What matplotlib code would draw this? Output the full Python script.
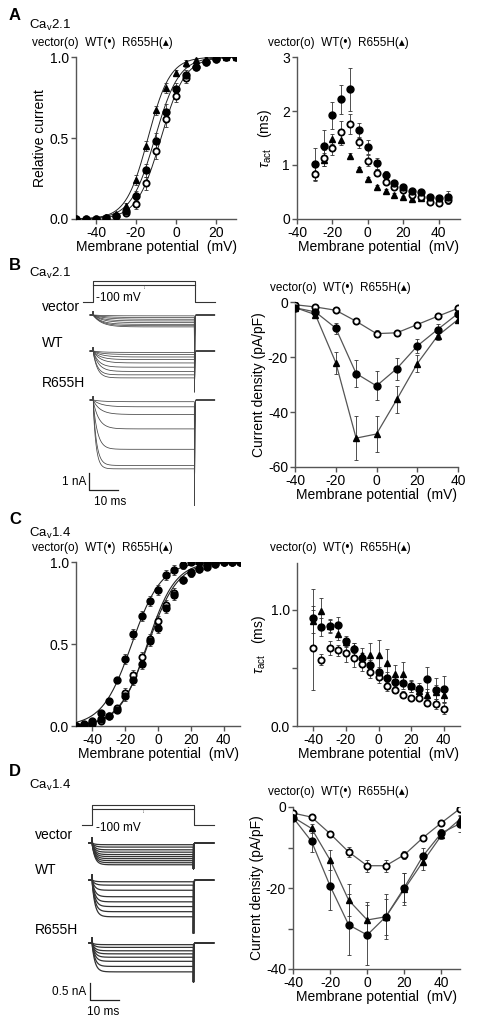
import numpy as np
import matplotlib.pyplot as plt

plt.rcParams['font.family'] = ['Liberation Sans', 'DejaVu Sans']
plt.rcParams['mathtext.fontset'] = 'custom'
plt.rcParams['mathtext.rm'] = 'Liberation Sans'
plt.rcParams['mathtext.it'] = 'Liberation Sans:italic'
plt.rcParams['axes.unicode_minus'] = False

#Data
#------------------------
# A: Cav2.1 activation (relative current) and tau act
v_a = [-50, -45, -40, -35, -30, -25, -20, -15, -10, -5, 0, 5, 10, 15, 20, 25, 30]
act_a_vec = [0, 0, 0, 0.005, 0.02, 0.04, 0.09, 0.22, 0.42, 0.62, 0.76, 0.87, 0.94, 0.97, 0.99, 1.0, 1.0]
act_a_wt = [0, 0, 0, 0.005, 0.02, 0.05, 0.14, 0.30, 0.48, 0.66, 0.80, 0.89, 0.94, 0.97, 0.99, 1.0, 1.0]
act_a_r = [0, 0, 0, 0.01, 0.03, 0.08, 0.24, 0.45, 0.67, 0.81, 0.90, 0.96, 0.98, 0.99, 1.0, 1.0, 1.0]
err_a_vec = [0, 0, 0, 0, 0.01, 0.02, 0.03, 0.04, 0.05, 0.05, 0.04, 0.03, 0.02, 0.01, 0, 0, 0]
err_a_wt = [0, 0, 0, 0, 0.01, 0.02, 0.03, 0.04, 0.05, 0.05, 0.04, 0.03, 0.02, 0.01, 0, 0, 0]
err_a_r = [0, 0, 0, 0, 0.01, 0.02, 0.03, 0.03, 0.03, 0.03, 0.02, 0.02, 0.01, 0.01, 0, 0, 0]
vhalf_a = [-7.5, -10.5, -14.0]   # vector, WT, R655H Boltzmann fits
slope_a = [6.0, 6.0, 5.5]

v_tau_a = [-30, -25, -20, -15, -10, -5, 0, 5, 10, 15, 20, 25, 30, 35, 40, 45]
tau_a_vec = [0.84, 1.13, 1.32, 1.62, 1.76, 1.42, 1.08, 0.86, 0.69, 0.59, 0.54, 0.44, 0.40, 0.31, 0.30, 0.36]
tau_a_wt = [1.01, 1.35, 1.92, 2.22, 2.40, 1.64, 1.34, 1.03, 0.82, 0.67, 0.59, 0.51, 0.50, 0.40, 0.38, 0.40]
tau_a_r = [0.85, 1.10, 1.48, 1.47, 1.17, 0.92, 0.74, 0.60, 0.52, 0.45, 0.40, 0.37, 0.38, 0.35, 0.33, 0.37]
err_tau_a_vec = [0.12, 0.15, 0.14, 0.20, 0.18, 0.10, 0.10, 0.06, 0.05, 0.04, 0.04, 0.04, 0.03, 0.03, 0.03, 0.05]
err_tau_a_wt = [0.30, 0.30, 0.25, 0.27, 0.40, 0.14, 0.13, 0.10, 0.06, 0.05, 0.05, 0.04, 0.04, 0.04, 0.04, 0.12]
err_tau_a_r = [0.12, 0.12, 0.10, 0.10, 0.06, 0.04, 0.04, 0.03, 0.03, 0.03, 0.03, 0.03, 0.03, 0.03, 0.03, 0.03]

# B: Cav2.1 current density
v_iv_b = [-40, -30, -20, -10, 0, 10, 20, 30, 40]
iv_b_vec = [-1.0, -1.8, -3.0, -7.0, -11.5, -11.2, -8.2, -5.2, -2.3]
iv_b_wt = [-2.1, -3.6, -9.5, -26.0, -30.5, -24.2, -16.0, -10.0, -4.2]
iv_b_r = [-2.0, -4.6, -22.0, -49.5, -48.0, -35.4, -22.4, -12.3, -6.4]
err_b_vec = [0.3, 0.4, 0.5, 0.8, 1.2, 1.0, 0.8, 0.6, 0.4]
err_b_wt = [0.5, 0.8, 2.0, 5.0, 5.3, 4.0, 2.5, 2.0, 1.0]
err_b_r = [0.5, 1.0, 4.0, 8.0, 6.5, 5.0, 3.0, 1.5, 1.0]

# B: Cav2.1 example traces (steady amplitude nA, activation tau ms)
amp_b_vec = [0.05, 0.15, 0.25, 0.35, 0.45, 0.55, 0.63, 0.70]
tau_b_vec = [4, 4, 4, 3.5, 3.5, 3, 3, 3]
amp_b_wt = [0.08, 0.2, 0.35, 0.5, 0.7, 0.95, 1.2, 1.4, 1.58]
tau_b_wt = [3, 3, 3, 2.5, 2.5, 2, 2, 1.5, 1.5]
amp_b_r = [0.1, 0.4, 0.85, 1.7, 2.9, 3.85, 4.05]
tau_b_r = [3, 3, 2.5, 2, 1.5, 1.2, 1.0]
tail_b = [4.5, 2.4, 6.2]

# C: Cav1.4 activation and tau act
v_c = [-50, -45, -40, -35, -30, -25, -20, -15, -10, -5, 0, 5, 10, 15, 20, 25, 30, 35, 40, 45, 50]
act_c_wt = [0, 0.01, 0.03, 0.08, 0.15, 0.28, 0.41, 0.56, 0.67, 0.76, 0.83, 0.92, 0.95, 0.98, 1.0, 1.0, 1.0, 1.0, 1.0, 1.0, 1.0]
act_c_vec = [0, 0, 0.01, 0.03, 0.06, 0.11, 0.20, 0.31, 0.42, 0.53, 0.64, 0.74, 0.81, 0.89, 0.94, 0.96, 0.98, 0.99, 1.0, 1.0, 1.0]
act_c_r = [0, 0.005, 0.02, 0.04, 0.06, 0.10, 0.18, 0.28, 0.38, 0.52, 0.60, 0.72, 0.80, 0.89, 0.93, 0.96, 0.97, 0.99, 1.0, 1.0, 1.0]
err_c = [0, 0, 0.01, 0.01, 0.02, 0.02, 0.03, 0.03, 0.03, 0.03, 0.03, 0.03, 0.03, 0.02, 0.02, 0.01, 0.01, 0, 0, 0, 0]
vhalf_c = [-6.0, -16.0, -6.5]
slope_c = [9.0, 9.0, 8.5]

v_tau_c = [-40, -35, -30, -25, -20, -15, -10, -5, 0, 5, 10, 15, 20, 25, 30, 35, 40]
tau_c_wt = [0.93, 0.85, 0.86, 0.87, 0.73, 0.66, 0.58, 0.52, 0.46, 0.41, 0.38, 0.37, 0.345, 0.32, 0.40, 0.31, 0.32]
tau_c_vec = [0.67, 0.57, 0.67, 0.65, 0.63, 0.58, 0.53, 0.46, 0.42, 0.34, 0.31, 0.27, 0.24, 0.24, 0.20, 0.19, 0.15]
tau_c_r = [0.90, 0.99, 0.86, 0.79, 0.72, 0.67, 0.61, 0.61, 0.61, 0.54, 0.45, 0.45, 0.34, 0.30, 0.27, 0.29, 0.27]
err_tau_c_wt = [0.25, 0.08, 0.06, 0.07, 0.04, 0.05, 0.05, 0.05, 0.05, 0.05, 0.05, 0.05, 0.05, 0.05, 0.11, 0.10, 0.11]
err_tau_c_vec = [0.36, 0.05, 0.06, 0.05, 0.08, 0.07, 0.06, 0.05, 0.05, 0.04, 0.03, 0.03, 0.02, 0.02, 0.03, 0.04, 0.05]
err_tau_c_r = [0.10, 0.11, 0.05, 0.05, 0.04, 0.04, 0.06, 0.10, 0.13, 0.12, 0.07, 0.10, 0.05, 0.05, 0.05, 0.06, 0.06]

# D: Cav1.4 current density
v_iv_d = [-40, -30, -20, -10, 0, 10, 20, 30, 40, 50]
iv_d_vec = [-1.5, -2.5, -6.6, -11.1, -14.5, -14.5, -11.8, -7.6, -3.9, -0.4]
iv_d_wt = [-2.6, -8.5, -19.5, -29.1, -31.6, -27.1, -19.9, -12.1, -6.4, -4.1]
iv_d_r = [-2.5, -5.3, -13.1, -23.0, -27.9, -27.1, -20.3, -13.5, -7.0, -3.0]
err_d_vec = [0.3, 0.4, 0.7, 1.2, 1.5, 1.5, 1.0, 0.6, 0.4, 0.3]
err_d_wt = [0.5, 2.5, 6.0, 7.5, 7.5, 5.5, 3.5, 2.0, 1.0, 2.0]
err_d_r = [0.5, 1.0, 2.5, 4.0, 4.5, 4.5, 4.0, 2.0, 1.0, 1.0]

# D: Cav1.4 example traces
amp_d_vec = [0.05, 0.12, 0.2, 0.27, 0.34, 0.4, 0.46, 0.52, 0.58, 0.64]
amp_d_wt = [0.05, 0.15, 0.3, 0.49, 0.64, 0.78, 0.93, 1.08]
amp_d_r = [0.05, 0.13, 0.23, 0.32, 0.42, 0.54, 0.69, 0.85]
tau_d = 1.0
tail_d = [0.76, 1.57, 1.15]

legend_txt = 'vector(ο)  WT(•)  R655H(▴)'

#Figure set up
#-------------
W, H = 486, 1023
fig = plt.figure(figsize=(W / 100, H / 100), dpi=100)
grey = '#555555'
tfs = 10


def px_axes(x0, y0, x1, y1):
    return fig.add_axes([x0 / W, 1 - y1 / H, (x1 - x0) / W, (y1 - y0) / H])


def style(ax):
    for s in ['top', 'right']:
        ax.spines[s].set_visible(False)
    for s in ['left', 'bottom']:
        ax.spines[s].set_color(grey)
        ax.spines[s].set_linewidth(1.0)
    ax.tick_params(colors=grey, labelcolor='black', labelsize=tfs, length=3.5, width=1.0, pad=1.5)
    ax.set_xlabel('Membrane potential  (mV)', fontsize=tfs, labelpad=0)


def ftext(x, y, s, **kw):
    kw.setdefault('fontsize', tfs)
    fig.text(x / W, 1 - y / H, s, va='center', **kw)


def boltz(v, vh, k):
    return 1 / (1 + np.exp((vh - v) / k))


def pts(ax, x, y, e, kind, ms=5, line=False):
    ax.errorbar(x, y, yerr=e, fmt='none', ecolor='#333333', elinewidth=0.6, capsize=1.5, capthick=0.6, zorder=2)
    if line:
        ax.plot(x, y, '-', color=grey, lw=0.9, zorder=2)
    if kind == 'open':
        ax.plot(x, y, 'o', mfc='white', mec='black', mew=1.3, ms=ms - 0.5, ls='', zorder=3)
    elif kind == 'fill':
        ax.plot(x, y, 'o', color='black', ms=ms, ls='', zorder=3)
    else:
        ax.plot(x, y, '^', color='black', ms=ms - 0.5, ls='', zorder=3)


#Panel A
#-------
ax = px_axes(76, 57, 236, 219)
vf = np.linspace(-50, 30, 300)
for vh, k in zip(vhalf_a, slope_a):
    ax.plot(vf, boltz(vf, vh, k), color='#222222', lw=0.7)
pts(ax, v_a, act_a_vec, err_a_vec, 'open')
pts(ax, v_a, act_a_r, err_a_r, 'tri')
pts(ax, v_a, act_a_wt, err_a_wt, 'fill')
ax.set_xlim(-50, 30)
ax.set_ylim(0, 1.0)
ax.set_xticks([-40, -20, 0, 20])
ax.set_yticks([0, 0.5, 1.0])
ax.set_yticklabels(['0.0', '0.5', '1.0'])
ax.set_ylabel('Relative current', fontsize=tfs, labelpad=2)
style(ax)

ax = px_axes(297, 57, 460, 219)
pts(ax, v_tau_a, tau_a_r, err_tau_a_r, 'tri')
pts(ax, v_tau_a, tau_a_vec, err_tau_a_vec, 'open')
pts(ax, v_tau_a, tau_a_wt, err_tau_a_wt, 'fill')
ax.set_xlim(-40, 52)
ax.set_ylim(0, 3)
ax.set_xticks([-40, -20, 0, 20, 40])
ax.set_yticks([0, 1, 2, 3])
ax.set_ylabel(r'$\tau_{\rm act}$   (ms)', fontsize=tfs, labelpad=6)
style(ax)

#Panel B
#-------
ax = px_axes(295, 302, 458, 467)
pts(ax, v_iv_b, iv_b_vec, err_b_vec, 'open', line=True)
pts(ax, v_iv_b, iv_b_wt, err_b_wt, 'fill', line=True)
pts(ax, v_iv_b, iv_b_r, err_b_r, 'tri', line=True)
ax.set_xlim(-40, 40)
ax.set_ylim(-60, 0)
ax.set_xticks([-40, -20, 0, 20, 40])
ax.set_yticks([0, -20, -40, -60])
ax.set_ylabel('Current density (pA/pF)', fontsize=tfs, labelpad=1)
style(ax)

#Panel C
#-------
ax = px_axes(76, 562, 240, 726)
vf = np.linspace(-50, 50, 300)
for vh, k in zip(vhalf_c, slope_c):
    ax.plot(vf, boltz(vf, vh, k), color='#222222', lw=0.8)
pts(ax, v_c, act_c_vec, err_c, 'open')
pts(ax, v_c, act_c_r, err_c, 'fill')
pts(ax, v_c, act_c_wt, err_c, 'fill')
ax.set_xlim(-50, 50)
ax.set_ylim(0, 1.0)
ax.set_xticks([-40, -20, 0, 20, 40])
ax.set_yticks([0, 0.5, 1.0])
ax.set_yticklabels(['0.0', '0.5', '1.0'])
style(ax)

ax = px_axes(297, 563, 460, 726)
pts(ax, v_tau_c, tau_c_r, err_tau_c_r, 'tri')
pts(ax, v_tau_c, tau_c_vec, err_tau_c_vec, 'open')
pts(ax, v_tau_c, tau_c_wt, err_tau_c_wt, 'fill')
ax.set_xlim(-50, 50)
ax.set_ylim(0, 1.4)
ax.set_xticks([-40, -20, 0, 20, 40])
ax.set_yticks([0, 0.5, 1.0])
ax.set_yticklabels(['0.0', '', '1.0'])
ax.set_ylabel(r'$\tau_{\rm act}$   (ms)', fontsize=tfs, labelpad=2)
style(ax)

#Panel D
#-------
ax = px_axes(293, 807, 460, 969)
pts(ax, v_iv_d, iv_d_vec, err_d_vec, 'open', line=True)
pts(ax, v_iv_d, iv_d_r, err_d_r, 'tri', line=True)
pts(ax, v_iv_d, iv_d_wt, err_d_wt, 'fill', line=True)
ax.set_xlim(-40, 50)
ax.set_ylim(-40, 0)
ax.set_xticks([-40, -20, 0, 20, 40])
ax.set_yticks([0, -10, -20, -30, -40])
ax.set_yticklabels(['0', '', '-20', '', '-40'])
ax.set_ylabel('Current density (pA/pF)', fontsize=tfs, labelpad=1)
style(ax)


#Example traces
#--------------
t_step = 35.0
ms_px = 2.9
t = np.arange(-1.0, 42.0, 0.05)


def trace(amp, tau, tail, cap):
    i = np.zeros_like(t)
    on = (t >= 0) & (t < t_step)
    i[on] = -amp * (1 - np.exp(-t[on] / tau))
    i[(t >= 0) & (t < 0.15)] = cap
    off = t >= t_step
    i[off] = -tail * np.exp(-(t[off] - t_step) / 0.08)
    return i


def trace_axes(x0, y0, x1, y1, t0_px, base_px, na_px):
    a = px_axes(x0, y0, x1, y1)
    a.set_xlim((x0 - t0_px) / ms_px, (x1 - t0_px) / ms_px)
    a.set_ylim((base_px - y1) / na_px, (base_px - y0) / na_px)
    a.axis('off')
    return a


def protocol(x0, y0, x1, y1, t0_px, base_px, top_px):
    mv_px = (base_px - top_px) / 150.0
    a = px_axes(x0, y0, x1, y1)
    a.set_xlim((x0 - t0_px) / ms_px, (x1 - t0_px) / ms_px)
    a.set_ylim(-100 - (y1 - base_px) / mv_px, -100 + (base_px - y0) / mv_px)
    a.axis('off')
    a.plot([-3.4, 0, 0, t_step, t_step, 42], [-100, -100, 50, 50, -100, -100], color='#333333', lw=0.8)
    a.plot([0, t_step], [20, 20], color='#333333', lw=0.8)
    a.plot([t_step / 2, t_step / 2], [20, -10], color='#333333', lw=0.6, ls=':')
    return a


# B traces
protocol(55, 275, 235, 310, 93, 302, 281)
axb = trace_axes(55, 305, 235, 510, 93, 315, 17.0)
offs_b = [0.0, -2.12, -5.0]
groups_b = [(amp_b_vec, tau_b_vec), (amp_b_wt, tau_b_wt), (amp_b_r, tau_b_r)]
for g, (amps, taus) in enumerate(groups_b):
    for amp, tau in zip(amps, taus):
        axb.plot(t, trace(amp, tau, tail_b[g], 0.2) + offs_b[g], color='#444444', lw=0.55)
# scale bar 1 nA / 10 ms
axb.plot([-1.4, -1.4, 8.6], [-9.29, -10.29, -10.29], color='#222222', lw=0.9)

# D traces
protocol(55, 798, 235, 832, 92, 825, 805)
axd = trace_axes(55, 832, 235, 1005, 92, 843, 34.0)
offs_d = [0.0, -1.09, -2.94]
for g, amps in enumerate([amp_d_vec, amp_d_wt, amp_d_r]):
    for amp in amps:
        axd.plot(t, trace(amp, tau_d, tail_d[g], 0.15) + offs_d[g], color='#333333', lw=0.9)
axd.plot([-0.7, -0.7, 9.3], [-4.12, -4.62, -4.62], color='#222222', lw=0.9)

#Text
#----
for letter, y in [('A', 15), ('B', 265), ('C', 520), ('D', 772)]:
    ftext(9, y, letter, fontsize=12, fontweight='bold')
for s, y in [('Ca$_{\\rm v}$2.1', 25), ('Ca$_{\\rm v}$2.1', 273), ('Ca$_{\\rm v}$1.4', 533), ('Ca$_{\\rm v}$1.4', 785)]:
    ftext(29, y, s, fontsize=9.5)
for x, y in [(32, 43), (268, 43), (270, 288), (32, 548), (270, 548), (268, 792)]:
    ftext(x, y, legend_txt, fontsize=8.5)

for s, y in [('vector', 307), ('WT', 343), ('R655H', 383)]:
    ftext(42, y, s)
for s, y in [('vector', 835), ('WT', 870), ('R655H', 930)]:
    ftext(35, y, s)
ftext(96, 298, '-100 mV', fontsize=8.5)
ftext(96, 828, '-100 mV', fontsize=8.5)
ftext(86, 482, '1 nA', fontsize=8.5, ha='right')
ftext(110, 502, '10 ms', fontsize=8.5, ha='center')
ftext(86, 992, '0.5 nA', fontsize=8.5, ha='right')
ftext(103, 1012, '10 ms', fontsize=8.5, ha='center')

plt.savefig('out.png', dpi=100)
